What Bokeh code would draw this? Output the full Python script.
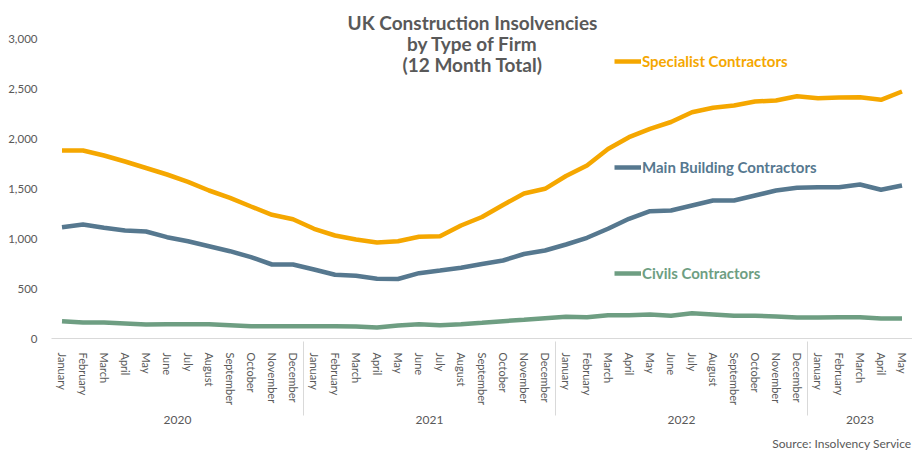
from bokeh.plotting import figure
from bokeh.models import (FactorRange, Range1d, Legend, LegendItem, Label, Title,
                          NumeralTickFormatter, FixedTicker)
from bokeh.embed import file_html
from bokeh.resources import INLINE

month_names = ["January", "February", "March", "April", "May", "June", "July",
               "August", "September", "October", "November", "December"]
years = ["2020"] * 12 + ["2021"] * 12 + ["2022"] * 12 + ["2023"] * 5
months = month_names * 3 + month_names[:5]

specialist = [1880, 1880, 1830, 1770, 1705, 1640, 1567, 1480, 1407, 1320, 1237, 1193,
              1097, 1030, 990, 960, 973, 1017, 1023, 1130, 1215, 1335, 1450, 1497,
              1625, 1730, 1895, 2013, 2097, 2165, 2263, 2307, 2330, 2370, 2380, 2423,
              2403, 2410, 2413, 2387, 2470]
main_building = [1113, 1140, 1107, 1080, 1070, 1013, 973, 923, 873, 813, 740, 740,
                 690, 637, 627, 597, 595, 653, 680, 708, 745, 780, 845, 880,
                 940, 1007, 1097, 1197, 1273, 1280, 1330, 1380, 1380, 1430, 1480, 1507,
                 1513, 1513, 1540, 1487, 1530]
civils = [173, 160, 160, 150, 140, 143, 143, 143, 133, 123, 123, 123,
          123, 123, 120, 110, 130, 143, 133, 143, 157, 173, 187, 203,
          217, 213, 233, 233, 240, 227, 253, 240, 227, 227, 220, 210,
          210, 213, 213, 200, 200]
y_ticks = [0, 500, 1000, 1500, 2000, 2500, 3000]

title_lines = ["UK Construction Insolvencies", "by Type of Firm", "(12 Month Total)"]
source_text = "Source: Insolvency Service"

ORANGE = "#F5A700"
BLUE = "#56788F"
GREEN = "#6E9E82"
GREY = "#595959"
LIGHT = "#D9D9D9"
FONT = "Lato"

W, H = 912, 456
LEFT, BOTTOM = 51, 118

factors = list(zip(years, months))

p = figure(x_range=FactorRange(*factors, group_padding=0, subgroup_padding=0,
                               factor_padding=0, range_padding=0),
           y_range=Range1d(0, 3380),
           width=W, height=H,
           min_border_left=LEFT, min_border_right=0, min_border_top=0,
           min_border_bottom=BOTTOM,
           output_backend="svg", toolbar_location=None)
p.outline_line_color = None
p.xgrid.visible = False
p.ygrid.visible = False

r_spec = p.line(factors, specialist, line_color=ORANGE, line_width=4.5)
r_main = p.line(factors, main_building, line_color=BLUE, line_width=4.5)
r_civ = p.line(factors, civils, line_color=GREEN, line_width=4.5)

# y axis
p.yaxis.ticker = FixedTicker(ticks=y_ticks)
p.yaxis.formatter = NumeralTickFormatter(format="0,0")
p.yaxis.axis_line_color = None
p.yaxis.major_tick_line_color = None
p.yaxis.minor_tick_line_color = None
p.yaxis.major_label_standoff = 8
p.yaxis.major_label_text_color = GREY
p.yaxis.major_label_text_font = FONT
p.yaxis.major_label_text_font_size = "11.5px"

# x axis
xa = p.xaxis[0]
xa.axis_line_color = LIGHT
xa.major_tick_line_color = None
xa.minor_tick_line_color = None
xa.major_label_orientation = "vertical"
xa.major_label_text_color = GREY
xa.major_label_text_font = FONT
xa.major_label_text_font_size = "11px"
xa.major_label_standoff = 8
xa.group_label_orientation = "parallel"
xa.group_text_color = GREY
xa.group_text_font = FONT
xa.group_text_font_size = "12px"
xa.group_text_font_style = "normal"
xa.separator_line_color = LIGHT
xa.separator_line_width = 1

# title (screen units relative to frame)
for i, t in enumerate(title_lines):
    p.add_layout(Label(x=421, y=316 - i * 21, x_units="screen", y_units="screen",
                       text=t, text_align="center", text_baseline="middle",
                       text_font=FONT, text_font_style="bold", text_font_size="19px",
                       text_color=GREY))

# inline legends
for r, name, col, ypos in [(r_spec, "Specialist Contractors", ORANGE, 276),
                           (r_main, "Main Building Contractors", BLUE, 170),
                           (r_civ, "Civils Contractors", GREEN, 64)]:
    lg = Legend(items=[LegendItem(label=name, renderers=[r])],
                location=(563, ypos - 8), padding=0, margin=0, spacing=0,
                glyph_width=27, glyph_height=16, label_height=16, label_standoff=1,
                label_text_color=col, label_text_font=FONT,
                label_text_font_style="bold", label_text_font_size="15px",
                border_line_color=None, background_fill_alpha=0)
    p.add_layout(lg, "center")

p.add_layout(Title(text=source_text, align="right", text_color=GREY,
                   text_font=FONT, text_font_style="normal", text_font_size="12px",
                   standoff=12, offset=1), "below")

open("out.html", "w").write(file_html(p, INLINE))
